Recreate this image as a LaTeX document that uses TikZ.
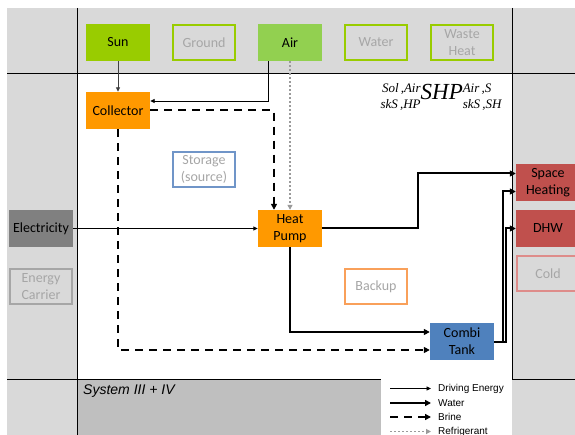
\documentclass[tikz,border=0pt]{standalone}
\usepackage{fontspec}
\setmainfont{Carlito}
\newfontfamily\arialfont{Liberation Sans}
\newfontfamily\timesfont{Liberation Serif}
\usetikzlibrary{arrows.meta}
\definecolor{bglight}{HTML}{D9D9D9}
\definecolor{bgdark}{HTML}{BFBFBF}
\definecolor{lime}{HTML}{99CC00}
\definecolor{airgreen}{HTML}{92D050}
\definecolor{orangebox}{HTML}{FF9900}
\definecolor{redbox}{HTML}{C0504D}
\definecolor{bluebox}{HTML}{4F81BD}
\definecolor{elecgray}{HTML}{808080}
\definecolor{txtgray}{HTML}{A6A6A6}
\definecolor{storblue}{HTML}{7095C8}
\definecolor{backorange}{HTML}{F9A05A}
\definecolor{coldred}{HTML}{DE8C8A}
\definecolor{refgray}{HTML}{9A9A9A}
\tikzset{
  box/.style={minimum width=64pt, minimum height=37pt, inner sep=1pt, align=center,
    font=\fontsize{14}{17}\selectfont},
  filled/.style={box, fill=#1, draw=none, text=black},
  outl/.style={box, draw=#1, line width=2pt, minimum width=62pt, minimum height=35pt, text=txtgray},
  frame/.style={line width=1pt, black},
  drive/.style={line width=0.9pt, -{Triangle[length=4.5pt,width=4pt]}},
  water/.style={line width=2pt, -{Triangle[length=6pt,width=6pt]}},
  brine/.style={line width=2pt, dash pattern=on 8pt off 6pt, -{Triangle[length=6pt,width=6pt]}},
  refr/.style={line width=1.5pt, refgray, dash pattern=on 2pt off 2pt, -{Triangle[length=5pt,width=5pt]}},
  legtext/.style={anchor=west, inner sep=0, font=\arialfont\fontsize{10}{12}\selectfont}
}
\begin{document}
\begin{tikzpicture}[x=1pt,y=-1pt]
\useasboundingbox (0,0) rectangle (575,435);
% background panels
\fill[white] (0,0) rectangle (575,435);
\fill[bglight] (7,8) rectangle (575,435);
\fill[white] (77,74) rectangle (512,379);
\fill[bgdark] (77,379) rectangle (381,435);
\fill[white] (381,379) rectangle (512,435);
% frame lines
\draw[frame] (77,8) -- (77,435);
\draw[frame] (7,74) -- (575,74);
\draw[frame] (512,8) -- (512,379);
\draw[frame] (7,379) -- (381,379);
\draw[frame] (512,379) -- (575,379);
% sources
\node[filled=lime] (sun) at (118,42.5) {Sun};
\node[outl=lime] (ground) at (204,42.5) {Ground};
\node[filled=airgreen] (air) at (290,42.5) {Air};
\node[outl=lime] (water) at (376,42.5) {Water};
\node[outl=lime] (waste) at (462,42.5) {Waste\\Heat};
% components
\node[filled=orangebox] (col) at (118,110.5) {Collector};
\node[outl=storblue] (stor) at (204,169.5) {Storage\\(source)};
\node[filled=orangebox] (hp) at (290,228.5) {Heat\\Pump};
\node[filled=elecgray] (elec) at (41,228.5) {Electricity};
\node[outl=txtgray] (carrier) at (41,287) {Energy\\Carrier};
\node[outl=backorange] (backup) at (376,286.5) {Backup};
\node[filled=bluebox] (combi) at (462,341.5) {Combi\\Tank};
% sinks
\node[filled=redbox] (sh) at (548,182.5) {Space\\Heating};
\node[filled=redbox] (dhw) at (548,228.5) {DHW};
\node[outl=coldred] (cold) at (548,273.5) {Cold};
% formula
\node[font=\timesfont\itshape, inner sep=0] (shp) at (441,97) {%
\fontsize{13}{16.5}\selectfont
\begin{tabular}{@{}r@{}}Sol\,,Air\\skS\,,HP\end{tabular}%
{\fontsize{23}{23}\selectfont SHP}%
\begin{tabular}{@{}l@{}}Air\,,S\\skS\,,SH\end{tabular}};
% system label
\node[anchor=west, inner sep=0, font=\arialfont\itshape\fontsize{14}{17}\selectfont] (sys) at (83,391) {System III + IV};
% connectors
\draw[drive, black!75] (sun.south) -- (col.north);
\draw[drive] ([xshift=-22pt]air.south) |- ([yshift=9.5pt]col.east);
\draw[refr] (air.south) -- (hp.north);
\draw[brine] (col.east) -| ([xshift=-16pt]hp.north);
\draw[brine] (col.south) |- ([yshift=-8.5pt]combi.west);
\draw[drive] (elec.east) -- (hp.west);
\draw[water] (hp.south) |- ([yshift=9.5pt]combi.west);
\draw[water] (hp.east) -- ++(96,0) |- ([yshift=9pt]sh.west);
\draw[water] (combi.east) -- ++(9,0) |- ([yshift=-9pt]sh.west);
\draw[water] (combi.east) -- ++(12,0) |- (dhw.west);
% legend
\coordinate (l1a) at (390,388.5); \coordinate (l1b) at (431,388.5);
\coordinate (l2a) at (390,403); \coordinate (l2b) at (431,403);
\coordinate (l3a) at (390,417); \coordinate (l3b) at (431,417);
\coordinate (l4a) at (390,431.5); \coordinate (l4b) at (431,431.5);
\draw[drive] (l1a) -- (l1b);
\draw[water] (l2a) -- (l2b);
\draw[brine] (l3a) -- (l3b);
\draw[refr] (l4a) -- (l4b);
\node[legtext] (t1) at (438,388.5) {Driving Energy};
\node[legtext] (t2) at (438,403) {Water};
\node[legtext] (t3) at (438,417) {Brine};
\node[legtext] (t4) at (438,431.5) {Refrigerant};
\end{tikzpicture}
\end{document}
